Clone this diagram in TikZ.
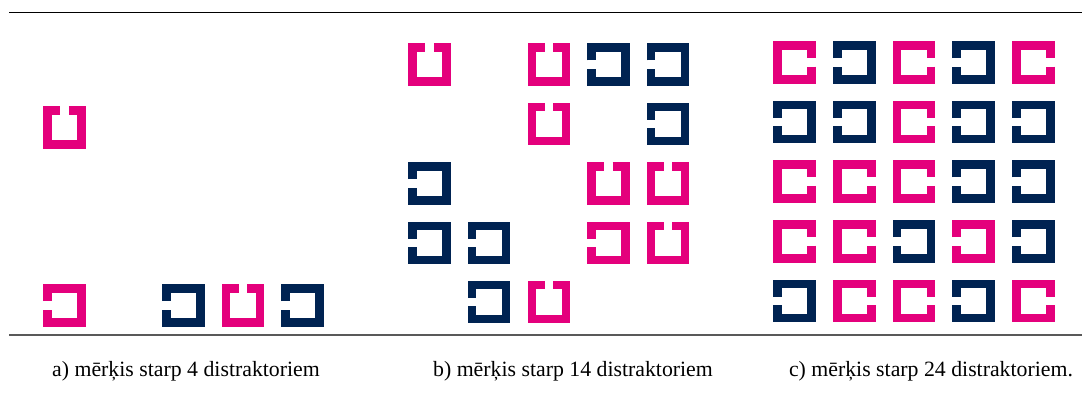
\documentclass[tikz,border=0pt]{standalone}
\usepackage{fontspec}
\setmainfont{Liberation Serif}
\definecolor{stimpink}{RGB}{228,0,124}
\definecolor{stimnavy}{RGB}{0,35,82}

\tikzset{
  % one stimulus: square frame, gap in the left side (rotate for others)
  stim/.pic={
    \draw[line width=8.5pt, line join=miter] (-17,-4.25) -- (-17,-17) -- (17,-17) -- (17,17) -- (-17,17) -- (-17,4.25);
  },
  caption/.style={anchor=base, font=\fontsize{21.8}{26}\selectfont}
}

\begin{document}
\begin{tikzpicture}[x=1pt, y=-1pt]
    \useasboundingbox (0,0) rectangle (1082,403);

    % Rules above and below the panels
    \draw[line width=1.3pt] (9,12.3) -- (1082,12.3);
    \draw[line width=2pt, black!65] (9,335) -- (1082,335);

    % a) target among 4 distractors
    \foreach \c/\r/\col/\a in {0/1/stimpink/-90, 0/4/stimpink/0, 2/4/stimnavy/0,
                               3/4/stimpink/-90, 4/4/stimnavy/0}
        \pic[color=\col, rotate=\a] at ({64.6+59.5*\c},{67.9+59.4*\r}) {stim};

    % b) target among 14 distractors
    \foreach \c/\r/\col/\a in {0/0/stimpink/-90, 2/0/stimpink/-90, 3/0/stimnavy/0, 4/0/stimnavy/0,
                               2/1/stimpink/-90, 4/1/stimnavy/0,
                               0/2/stimnavy/0, 3/2/stimpink/-90, 4/2/stimpink/-90,
                               0/3/stimnavy/0, 1/3/stimnavy/0, 3/3/stimpink/0, 4/3/stimpink/-90,
                               1/4/stimnavy/0, 2/4/stimpink/-90}
        \pic[color=\col, rotate=\a] at ({429.6+59.6*\c},{64.6+59.4*\r}) {stim};

    % c) target among 24 distractors
    \foreach \c/\r/\col/\a in {0/0/stimpink/180, 1/0/stimnavy/0, 2/0/stimpink/180, 3/0/stimnavy/0, 4/0/stimpink/180,
                               0/1/stimnavy/0, 1/1/stimnavy/0, 2/1/stimpink/180, 3/1/stimnavy/0, 4/1/stimnavy/0,
                               0/2/stimpink/180, 1/2/stimpink/180, 2/2/stimpink/180, 3/2/stimnavy/0, 4/2/stimnavy/0,
                               0/3/stimpink/180, 1/3/stimpink/180, 2/3/stimnavy/0, 3/3/stimpink/0, 4/3/stimnavy/0,
                               0/4/stimnavy/0, 1/4/stimpink/180, 2/4/stimpink/180, 3/4/stimnavy/0, 4/4/stimpink/180}
        \pic[color=\col, rotate=\a] at ({794.6+59.7*\c},{62.3+59.7*\r}) {stim};

    % Captions
    \node[caption] (capa) at (186,377) {a) mērķis starp 4 distraktoriem};
    \node[caption] (capb) at (573,377) {b) mērķis starp 14 distraktoriem};
    \node[caption] (capc) at (931,377) {c) mērķis starp 24 distraktoriem.};
\end{tikzpicture}
\end{document}
